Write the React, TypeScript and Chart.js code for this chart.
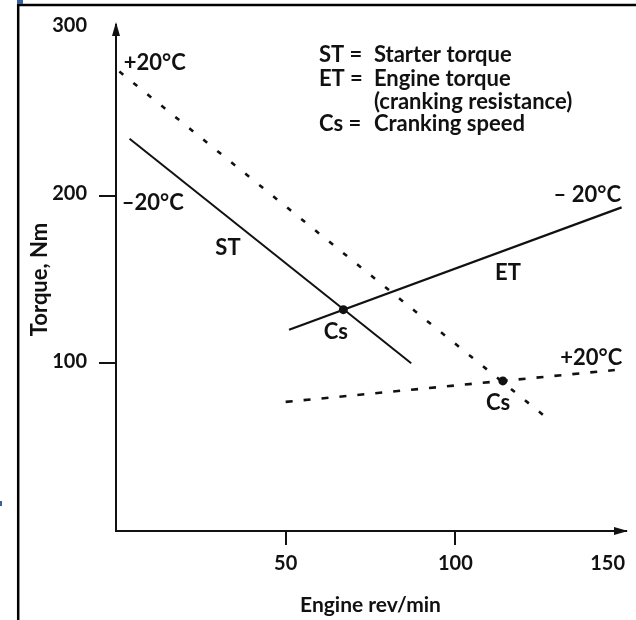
import React, { useEffect, useRef } from "react";
import { Chart, registerables } from "chart.js";

Chart.register(...registerables);

// ---- data (engine rev/min vs torque, Nm) ----
const xTicks = [0, 50, 100, 150];
const xTickLabels = ["", "50", "100", "150"];
const yTicks = [100, 200, 300];

const starterTorqueCold = [
  { x: 4, y: 234 },
  { x: 87, y: 100 },
];
const engineTorqueCold = [
  { x: 51, y: 120 },
  { x: 149, y: 193 },
];
const starterTorqueWarm = [
  { x: 1, y: 274 },
  { x: 126, y: 69 },
];
const engineTorqueWarm = [
  { x: 50, y: 77 },
  { x: 147, y: 96 },
];
const crankingSpeedPoints = [
  { x: 67, y: 132 },
  { x: 114, y: 89.5 },
];

// annotation labels (placed in data coordinates)
const noteTexts = ["+20°C", "–20°C", "ST", "ET", "Cs", "Cs", "– 20°C", "+20°C"];
const noteX = [2.3, 1.7, 33, 115.5, 64.8, 112.6, 148.8, 149.2];
const noteY = [279, 195.5, 169, 154, 118.5, 76.5, 200.5, 103];
const noteAlign: CanvasTextAlign[] = ["left", "left", "center", "center", "center", "center", "right", "right"];

// key text
const keyCodes = ["ST =", "ET =", "", "Cs ="];
const keyTexts = ["Starter torque", "Engine torque", "(cranking resistance)", "Cranking speed"];
const keyCodeX = 59.8;
const keyTextX = 76;
const keyY = [284, 269.5, 256, 243];

const FONT = "Lato, 'Open Sans', sans-serif";
const INK = "#111";

const decorPlugin = {
  id: "decor",
  beforeDraw(chart: any) {
    const ctx = chart.ctx;
    ctx.save();
    ctx.fillStyle = "#fff";
    ctx.fillRect(0, 0, chart.width, chart.height);
    // frame
    ctx.strokeStyle = "#000";
    ctx.lineWidth = 2.5;
    ctx.beginPath();
    ctx.moveTo(17, 5);
    ctx.lineTo(chart.width, 5);
    ctx.moveTo(18.2, 4);
    ctx.lineTo(18.2, chart.height);
    ctx.stroke();
    ctx.fillStyle = "#3b5f9a";
    ctx.fillRect(17, 0, 6, 4);
    ctx.fillRect(0, 501, 2, 5);
    ctx.restore();
  },
  afterDraw(chart: any) {
    const ctx = chart.ctx;
    const xs = chart.scales.x;
    const ys = chart.scales.y;
    const { left, top, right, bottom } = chart.chartArea;
    ctx.save();
    ctx.fillStyle = INK;
    ctx.strokeStyle = INK;
    ctx.lineWidth = 2;
    // y axis arrow
    ctx.beginPath();
    ctx.moveTo(left, top + 2);
    ctx.lineTo(left, top - 4);
    ctx.stroke();
    ctx.beginPath();
    ctx.moveTo(left, top - 6);
    ctx.lineTo(left - 4, top + 8);
    ctx.lineTo(left + 4, top + 8);
    ctx.closePath();
    ctx.fill();
    // x axis arrow
    ctx.beginPath();
    ctx.moveTo(right - 2, bottom);
    ctx.lineTo(right + 2, bottom);
    ctx.stroke();
    ctx.beginPath();
    ctx.moveTo(right + 3, bottom);
    ctx.lineTo(right - 11, bottom - 4);
    ctx.lineTo(right - 11, bottom + 4);
    ctx.closePath();
    ctx.fill();

    // annotations
    ctx.font = `bold 22px ${FONT}`;
    ctx.textBaseline = "middle";
    noteTexts.forEach((t, i) => {
      ctx.textAlign = noteAlign[i];
      ctx.fillText(t, xs.getPixelForValue(noteX[i]), ys.getPixelForValue(noteY[i]));
    });
    // key
    ctx.textAlign = "left";
    keyTexts.forEach((t, i) => {
      const py = ys.getPixelForValue(keyY[i]);
      if (keyCodes[i]) ctx.fillText(keyCodes[i], xs.getPixelForValue(keyCodeX), py);
      ctx.fillText(t, xs.getPixelForValue(keyTextX), py);
    });
    ctx.restore();
  },
};

export default function App() {
  const ref = useRef<HTMLCanvasElement | null>(null);
  useEffect(() => {
    document.body.style.margin = "0";
    const canvas = ref.current;
    if (!canvas) return;
    const lineDs = (label: string, data: any[], dash: number[], width: number) => ({
      type: "line" as const,
      label,
      data,
      borderColor: INK,
      backgroundColor: INK,
      borderWidth: width,
      borderDash: dash,
      pointRadius: 0,
      fill: false,
      tension: 0,
    });
    const chart = new Chart(canvas, {
      type: "line",
      data: {
        datasets: [
          lineDs("ST −20°C", starterTorqueCold, [], 2),
          lineDs("ET −20°C", engineTorqueCold, [], 2.2),
          lineDs("ST +20°C", starterTorqueWarm, [5, 13], 2.6),
          lineDs("ET +20°C", engineTorqueWarm, [7, 11], 2.6),
          {
            type: "scatter" as const,
            label: "Cs",
            data: crankingSpeedPoints,
            pointRadius: 4.5,
            pointBackgroundColor: INK,
            pointBorderWidth: 0,
            showLine: false,
          } as any,
        ],
      },
      options: {
        animation: false,
        responsive: false,
        devicePixelRatio: 1,
        layout: { padding: { left: 0, right: 11, top: 28, bottom: 0 } },
        plugins: { legend: { display: false }, tooltip: { enabled: false } },
        scales: {
          x: {
            type: "linear",
            min: 0,
            max: 150,
            afterBuildTicks: (s: any) => {
              s.ticks = xTicks.map((v) => ({ value: v }));
            },
            afterFit: (s: any) => {
              s.height = 89;
            },
            grid: {
              display: true,
              drawOnChartArea: false,
              drawTicks: true,
              tickLength: 14,
              lineWidth: 2,
              color: (c: any) =>
                c.tick && (c.tick.value === 150 || c.tick.value === 0) ? "rgba(0,0,0,0)" : INK,
            },
            border: { display: true, color: INK, width: 2 },
            ticks: {
              color: INK,
              font: { family: FONT, size: 20, weight: "bold" },
              padding: 7,
              maxRotation: 0,
              align: "inner",
              callback: (v: any) => {
                const i = xTicks.indexOf(Number(v));
                return i >= 0 ? xTickLabels[i] : "";
              },
            },
            title: {
              display: true,
              text: "Engine rev/min",
              color: INK,
              font: { family: FONT, size: 21, weight: "bold" },
              padding: { top: 0, bottom: 2 },
            },
          },
          y: {
            type: "linear",
            min: 0,
            max: 300,
            afterBuildTicks: (s: any) => {
              s.ticks = yTicks.map((v) => ({ value: v }));
            },
            afterFit: (s: any) => {
              s.width = 116;
            },
            grid: {
              display: true,
              drawOnChartArea: false,
              drawTicks: true,
              tickLength: 17,
              lineWidth: 2,
              color: (c: any) => (c.tick && c.tick.value === 300 ? "rgba(0,0,0,0)" : INK),
            },
            border: { display: true, color: INK, width: 2 },
            ticks: {
              color: INK,
              font: { family: FONT, size: 20, weight: "bold" },
              padding: 12,
              labelOffset: -2,
              callback: (v: any) => String(v),
            },
            title: {
              display: true,
              text: "Torque, Nm",
              color: INK,
              font: { family: FONT, size: 22, weight: "bold" },
              padding: { top: 27, bottom: 0 },
            },
          },
        },
      },
      plugins: [decorPlugin],
    });
    return () => chart.destroy();
  }, []);
  return (
    <div style={{ position: "relative", width: 636, height: 620 }}>
      <canvas ref={ref} width={636} height={620} style={{ display: "block" }} />
    </div>
  );
}
